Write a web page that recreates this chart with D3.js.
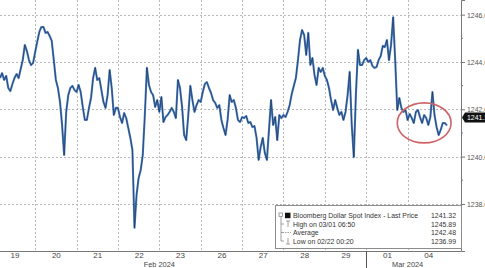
<!DOCTYPE html>
<html>
<head>
<meta charset="utf-8">
<script src="https://cdn.jsdelivr.net/npm/d3@7"></script>
<style>
body { margin: 0; background: #fff; }
svg { display: block; font-family: "Liberation Sans", Arial, sans-serif; }
</style>
</head>
<body>
<div id="chart"></div>
<script>
// Datasets
var dayLabels = ["19", "20", "21", "22", "23", "26", "27", "28", "29", "01", "04"];
var monthLabels = ["Feb 2024", "Mar 2024"];
var monthCentres = [4, 10];     // trading-day index the month name sits under
var monthBreaks = [9];          // March starts at trading day 9
var yTicks = [1238, 1240, 1242, 1244, 1246];
var yMinor = [1239, 1241, 1243, 1245];
var samplesPerDay = 20;

// prices, 20 per trading day (first day is cut off on the left)
var feb19 = [1243.32, 1243.53, 1243.24, 1243.41, 1242.90, 1242.77, 1243.07, 1243.32, 1243.49, 1243.32, 1243.70, 1244.08, 1244.72, 1244.46, 1244.08, 1243.87, 1243.96];
var feb20 = [1244.42, 1244.85, 1245.27, 1245.48, 1245.48, 1245.23, 1245.27, 1245.10, 1244.89, 1244.08, 1243.24, 1242.90, 1242.31, 1241.34, 1240.07, 1241.89, 1242.60, 1242.90, 1242.99, 1242.82];
var feb21 = [1242.73, 1243.03, 1242.73, 1242.10, 1241.55, 1241.55, 1242.06, 1242.48, 1243.32, 1243.75, 1243.24, 1243.32, 1242.82, 1242.31, 1242.06, 1242.60, 1243.66, 1242.90, 1241.76, 1242.06];
var feb22 = [1242.06, 1241.67, 1241.42, 1241.84, 1241.63, 1241.21, 1240.79, 1240.28, 1236.99, 1238.38, 1239.10, 1239.43, 1240.07, 1241.76, 1243.75, 1243.03, 1242.73, 1242.60, 1242.10, 1242.39];
var feb23 = [1241.89, 1242.52, 1241.46, 1241.67, 1241.76, 1241.89, 1242.06, 1241.89, 1241.63, 1243.24, 1242.90, 1242.10, 1240.91, 1240.70, 1241.76, 1242.99, 1242.39, 1241.89, 1242.18, 1242.39];
var feb26 = [1242.31, 1242.73, 1243.07, 1243.15, 1242.90, 1242.69, 1242.39, 1242.27, 1242.06, 1242.18, 1241.55, 1241.21, 1240.91, 1241.55, 1242.60, 1242.31, 1242.39, 1242.06, 1241.55, 1241.46];
var feb27 = [1241.67, 1241.63, 1241.72, 1241.42, 1241.46, 1241.25, 1241.29, 1240.79, 1239.86, 1240.41, 1240.79, 1240.15, 1239.86, 1241.13, 1242.39, 1241.34, 1241.67, 1240.70, 1241.76, 1241.63];
var feb28 = [1241.76, 1241.67, 1241.89, 1242.18, 1242.65, 1242.99, 1243.32, 1244.08, 1244.93, 1245.35, 1245.14, 1244.30, 1245.23, 1243.87, 1244.17, 1243.45, 1243.03, 1243.75, 1243.58, 1243.75];
var feb29 = [1243.41, 1243.24, 1242.90, 1242.39, 1241.97, 1242.39, 1242.06, 1241.76, 1241.89, 1241.55, 1241.89, 1242.60, 1243.58, 1241.34, 1239.98, 1242.60, 1244.51, 1243.87, 1243.87, 1244.08];
var mar01 = [1244.17, 1244.00, 1244.08, 1243.83, 1243.75, 1243.79, 1244.08, 1244.25, 1244.68, 1244.63, 1244.93, 1244.08, 1244.72, 1245.89, 1244.08, 1241.97, 1242.48, 1242.06, 1241.89, 1241.97];
var mar04 = [1241.55, 1241.80, 1241.63, 1241.42, 1241.89, 1241.97, 1241.67, 1241.42, 1241.76, 1241.63, 1241.34, 1241.67, 1242.73, 1241.76, 1241.25, 1240.91, 1241.13, 1241.42, 1241.42, 1241.32];

var legendLabels = ["Bloomberg Dollar Spot Index - Last Price", "High on 03/01 06:50", "Average", "Low on 02/22 00:20"];
var legendValues = [1241.32, 1245.89, 1242.48, 1236.99];

// red ring drawn round the last session: [day, price] corners
var circled = [[9.75, 1242.27], [11.05, 1240.58]];

var width = 485,
    height = 268,
    plotW = 461,
    plotH = 251,
    squeeze = 0.92;   // Bloomberg's font is narrower than Liberation Sans

var x = d3.scaleLinear().domain([0.15, 11.29]).range([0, plotW]);
var y = d3.scaleLinear().domain([1236.01, 1246.62]).range([plotH, 0]);

var days = [feb19, feb20, feb21, feb22, feb23, feb26, feb27, feb28, feb29, mar01, mar04];
var points = [];
days.forEach(function (vals, d) {
    var first = d === 0 ? samplesPerDay - vals.length : 0;
    vals.forEach(function (v, i) {
        points.push({ t: d + (first + i) / samplesPerDay, v: v });
    });
});

function narrow(sel) {
    sel.each(function () {
        var w = this.getComputedTextLength();
        d3.select(this).attr("textLength", w * squeeze).attr("lengthAdjust", "spacingAndGlyphs");
    });
}

var svg = d3.select("#chart").append("svg")
    .attr("width", width)
    .attr("height", height);

svg.append("defs").append("clipPath").attr("id", "plot")
    .append("rect").attr("width", plotW).attr("height", plotH);

// grid
var grid = svg.append("g")
    .attr("stroke", "#b8b8b8")
    .attr("stroke-dasharray", "2,2")
    .attr("shape-rendering", "crispEdges");

grid.selectAll("line.h")
    .data(yTicks)
    .enter().append("line")
    .attr("class", "h")
    .attr("x1", 0).attr("x2", plotW)
    .attr("y1", function (d) { return Math.round(y(d)) + 0.5; })
    .attr("y2", function (d) { return Math.round(y(d)) + 0.5; });

grid.selectAll("line.v")
    .data(d3.range(1, dayLabels.length))
    .enter().append("line")
    .attr("class", "v")
    .attr("y1", 0).attr("y2", plotH)
    .attr("x1", function (d) { return Math.round(x(d)) + 0.5; })
    .attr("x2", function (d) { return Math.round(x(d)) + 0.5; });

// price line
var line = d3.line()
    .x(function (d) { return x(d.t); })
    .y(function (d) { return y(d.v); });

var series = svg.append("g").attr("clip-path", "url(#plot)");
series.append("path")
    .datum(points)
    .attr("fill", "none")
    .attr("stroke", "#4a80c4")
    .attr("stroke-width", 2.1)
    .attr("stroke-linejoin", "round")
    .attr("d", line);
series.append("path")
    .datum(points)
    .attr("fill", "none")
    .attr("stroke", "#15203a")
    .attr("stroke-width", 0.8)
    .attr("stroke-opacity", 0.7)
    .attr("d", line);

// ring
svg.append("ellipse")
    .attr("cx", (x(circled[0][0]) + x(circled[1][0])) / 2)
    .attr("cy", (y(circled[0][1]) + y(circled[1][1])) / 2)
    .attr("rx", (x(circled[1][0]) - x(circled[0][0])) / 2)
    .attr("ry", (y(circled[1][1]) - y(circled[0][1])) / 2)
    .attr("fill", "none")
    .attr("stroke", "#cf6466")
    .attr("stroke-width", 1.6);

// right axis (labels run off the right edge, as in the source)
var yAxis = svg.append("g")
    .attr("transform", "translate(" + plotW + ",0)")
    .call(d3.axisRight(y).tickValues(yTicks).tickFormat(d3.format(".2f")).tickSize(4).tickPadding(2));
yAxis.select(".domain").attr("stroke", "#777");
yAxis.selectAll(".tick line").attr("stroke", "#777");
yAxis.selectAll("text").attr("fill", "#555").style("font-size", "7.5px").call(narrow);

svg.append("g")
    .attr("transform", "translate(" + plotW + ",0)")
    .selectAll("line")
    .data(yMinor)
    .enter().append("line")
    .attr("x1", 0).attr("x2", 2)
    .attr("y1", function (d) { return y(d); })
    .attr("y2", function (d) { return y(d); })
    .attr("stroke", "#777");

// bottom axis
var xAxis = svg.append("g")
    .attr("transform", "translate(0," + plotH + ")")
    .call(d3.axisBottom(x)
        .tickValues(d3.range(dayLabels.length).map(function (d) { return d + 0.5; }))
        .tickFormat(function (d, i) { return dayLabels[i]; })
        .tickSize(0).tickPadding(1));
xAxis.select(".domain").attr("stroke", "#777").attr("d", "M0,0.5H" + plotW);
xAxis.selectAll("text").attr("fill", "#444").style("font-size", "8px");

svg.selectAll("text.month")
    .data(monthLabels)
    .enter().append("text")
    .attr("class", "month")
    .attr("x", function (d, i) { return x(monthCentres[i]); })
    .attr("y", 267)
    .attr("text-anchor", "middle")
    .attr("fill", "#444")
    .style("font-size", "8px")
    .text(function (d) { return d; })
    .call(narrow);

svg.selectAll("line.month")
    .data(monthBreaks)
    .enter().append("line")
    .attr("class", "month")
    .attr("x1", function (d) { return Math.round(x(d)) + 0.5; })
    .attr("x2", function (d) { return Math.round(x(d)) + 0.5; })
    .attr("y1", plotH).attr("y2", height)
    .attr("stroke", "#555");

// last price tag (sits a little above the last close, as in the source)
var tagY = y(legendValues[0]) - 8;
var tag = svg.append("g").attr("transform", "translate(" + (plotW + 1) + "," + tagY + ")");
tag.append("path")
    .attr("d", "M0,0L3,-5H30V5H3Z")
    .attr("fill", "#111");
tag.append("text")
    .attr("x", 5).attr("y", 3)
    .attr("fill", "#fff")
    .style("font-size", "7.5px")
    .text(d3.format(".2f")(legendValues[0]))
    .call(narrow);

// legend
var lg = svg.append("g");
lg.append("rect")
    .attr("x", 275.5).attr("y", 205.5)
    .attr("width", 186).attr("height", 43)
    .attr("fill", "#fff")
    .attr("stroke", "#8c8c8c");

var rowY = function (i) { return 215.5 + i * 8.5; };
var icon = lg.append("g").attr("stroke", "#888").attr("fill", "none").attr("stroke-width", 0.8);
icon.append("rect").attr("x", 279).attr("y", 213).attr("width", 3.5).attr("height", 3.5);
icon.append("path").attr("d", "M281,217V" + rowY(3) + "M281," + rowY(1) + "H284M281," + rowY(2) + "H284M281," + rowY(3) + "H284");
icon.append("path").attr("d", "M286," + (rowY(1) - 3) + "H290M288," + (rowY(1) - 3) + "V" + (rowY(1) + 3));
icon.append("path").attr("d", "M285," + rowY(2) + "H291").attr("stroke-dasharray", "1.5,1");
icon.append("path").attr("d", "M288," + (rowY(3) - 3) + "V" + (rowY(3) + 3) + "M286," + (rowY(3) + 3) + "H290");
lg.append("rect")
    .attr("x", 285).attr("y", rowY(0) - 2.8)
    .attr("width", 5.5).attr("height", 5.5)
    .attr("fill", "#111");

lg.selectAll("text.lab")
    .data(legendLabels)
    .enter().append("text")
    .attr("class", "lab")
    .attr("x", 293)
    .attr("y", function (d, i) { return rowY(i) + 2.7; })
    .attr("fill", "#333")
    .style("font-size", "7.5px")
    .text(function (d) { return d; })
    .call(narrow);

lg.selectAll("text.val")
    .data(legendValues)
    .enter().append("text")
    .attr("class", "val")
    .attr("x", 456)
    .attr("y", function (d, i) { return rowY(i) + 2.7; })
    .attr("text-anchor", "end")
    .attr("fill", "#333")
    .style("font-size", "7.5px")
    .text(function (d) { return d3.format(".2f")(d); })
    .call(narrow);
</script>
</body>
</html>
